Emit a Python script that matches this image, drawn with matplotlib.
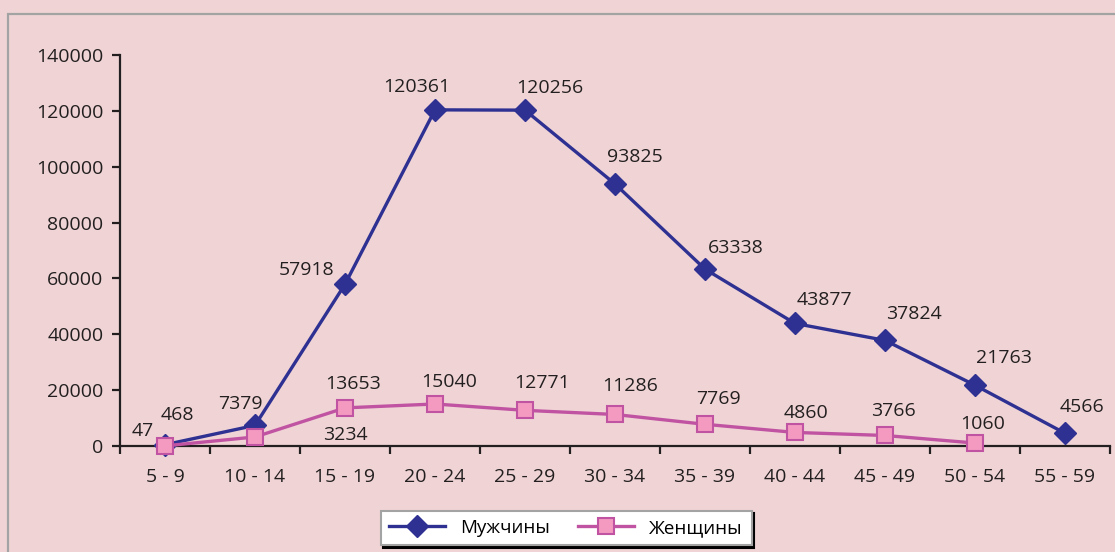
import matplotlib.pyplot as plt
from matplotlib.patches import Rectangle

plt.rcParams['font.family'] = ['Open Sans', 'DejaVu Sans']

ages = ['5 - 9', '10 - 14', '15 - 19', '20 - 24', '25 - 29', '30 - 34',
        '35 - 39', '40 - 44', '45 - 49', '50 - 54', '55 - 59']
men = [468, 7379, 57918, 120361, 120256, 93825, 63338, 43877, 37824, 21763, 4566]
women = [47, 3234, 13653, 15040, 12771, 11286, 7769, 4860, 3766, 1060]

# label offsets in pixels (as placed in the original)
men_off = [(12, 30), (-15, 21), (-38, 14), (-18, 23), (25, 22), (20, 27),
           (31, 21), (29, 23), (29, 26), (29, 27), (17, 26)]
women_off = [(-22, 15), (90, 2), (8, 24), (14, 22), (17, 27), (15, 28),
             (13, 25), (11, 19), (8, 24), (8, 19)]

bg = '#f0d4d5'
fs = 14
fig = plt.figure(figsize=(11.15, 5.52), dpi=100, facecolor=bg)
ax = fig.add_axes([120 / 1115, 106 / 552, 990 / 1115, 391 / 552])
ax.set_facecolor(bg)

# outer chart border
fig.patches.append(Rectangle((8 / 1115, -0.1), 1.2, 1.1 - 14 / 552,
                             transform=fig.transFigure, fill=False,
                             edgecolor='#a3a3a3', linewidth=1.6, clip_on=False))

x_m = list(range(len(men)))
x_w = list(range(len(women)))
ax.plot(x_m, men, color='#2e3192', lw=2.4, marker='D', markersize=11.5,
        markerfacecolor='#2e3192', markeredgecolor='#2e3192', label='Мужчины',
        zorder=3, clip_on=False)
ax.plot(x_w, women, color='#c154a2', lw=2.4, marker='s', markersize=11,
        markerfacecolor='#f49ac1', markeredgecolor='#c154a2', markeredgewidth=1.5,
        label='Женщины', zorder=4, clip_on=False)

for i, v in enumerate(men):
    ax.annotate(str(v), (i, v), xytext=men_off[i], textcoords='offset pixels',
                ha='center', va='center', fontsize=fs, color='#231f20')
for i, v in enumerate(women):
    ax.annotate(str(v), (i, v), xytext=women_off[i], textcoords='offset pixels',
                ha='center', va='center', fontsize=fs, color='#231f20')

ax.set_xlim(-0.5, len(ages) - 0.5)
ax.set_ylim(0, 140000)
ax.set_yticks(range(0, 140001, 20000))
ax.set_xticks(x_m)
ax.set_xticklabels(ages)
ax.set_xticks([i - 0.5 for i in range(len(ages) + 1)], minor=True)

for s in ['top', 'right']:
    ax.spines[s].set_visible(False)
for s in ['left', 'bottom']:
    ax.spines[s].set_linewidth(1.6)
    ax.spines[s].set_color('#231f20')

ax.tick_params(axis='y', length=6, width=1.6, pad=6, labelsize=fs,
               colors='#231f20')
ax.tick_params(axis='x', which='major', length=0, pad=16, labelsize=fs,
               colors='#231f20')
ax.tick_params(axis='x', which='minor', length=6, width=1.6, color='#231f20')

leg = fig.legend(loc='center', bbox_to_anchor=(566 / 1115, 1 - 528 / 552),
                 ncol=2, fontsize=13.5, frameon=True, fancybox=False,
                 shadow={'color': 'black', 'alpha': 1}, handlelength=3.0,
                 columnspacing=1.5, borderpad=0.45, borderaxespad=0)
leg.get_frame().set_edgecolor('#a3a3a3')
leg.get_frame().set_linewidth(1.5)

fig.savefig('out.png', dpi=100, facecolor=bg)
